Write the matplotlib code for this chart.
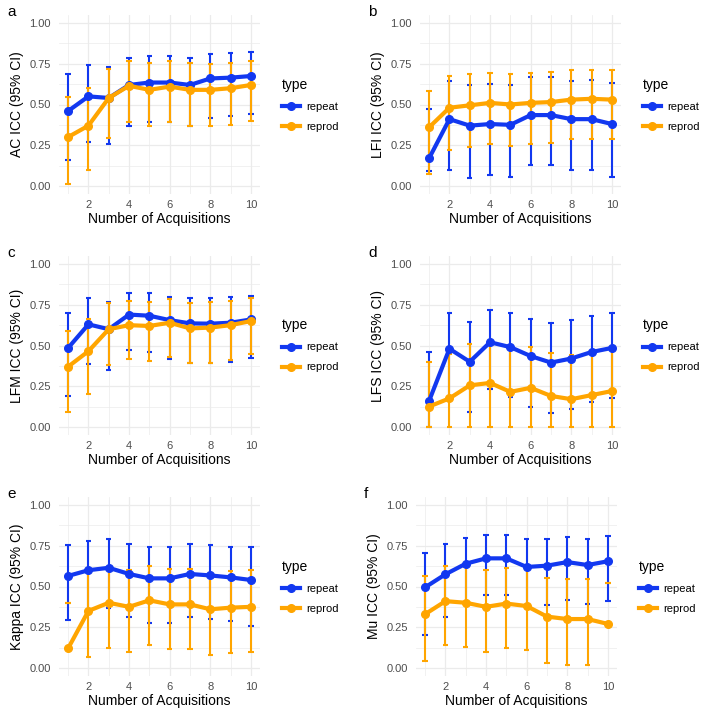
import numpy as np
import matplotlib
matplotlib.use('Agg')
import matplotlib.pyplot as plt
from matplotlib.lines import Line2D

plt.rcParams['font.family'] = ['Liberation Sans', 'DejaVu Sans']

# data (ICC point estimates and 95% CI)
acq = [1, 2, 3, 4, 5, 6, 7, 8, 9, 10]
letters = ['a', 'b', 'c', 'd', 'e', 'f']
ylabels = ['AC ICC (95% CI)', 'LFI ICC (95% CI)', 'LFM ICC (95% CI)',
           'LFS ICC (95% CI)', 'Kappa ICC (95% CI)', 'Mu ICC (95% CI)']
types = ['repeat', 'reprod']

ac_repeat = [0.46, 0.55, 0.54, 0.62, 0.635, 0.635, 0.62, 0.66, 0.665, 0.675]
ac_repeat_lo = [0.16, 0.27, 0.26, 0.37, 0.39, 0.39, 0.37, 0.42, 0.43, 0.44]
ac_repeat_hi = [0.685, 0.74, 0.73, 0.785, 0.795, 0.795, 0.785, 0.81, 0.815, 0.82]
ac_reprod = [0.30, 0.37, 0.54, 0.615, 0.59, 0.61, 0.59, 0.59, 0.60, 0.62]
ac_reprod_lo = [0.01, 0.095, 0.295, 0.39, 0.365, 0.39, 0.37, 0.365, 0.375, 0.40]
ac_reprod_hi = [0.545, 0.60, 0.72, 0.765, 0.755, 0.765, 0.755, 0.75, 0.755, 0.77]

lfi_repeat = [0.17, 0.41, 0.37, 0.38, 0.375, 0.435, 0.435, 0.41, 0.41, 0.38]
lfi_repeat_lo = [0.09, 0.095, 0.05, 0.065, 0.055, 0.13, 0.13, 0.10, 0.10, 0.055]
lfi_repeat_hi = [0.47, 0.645, 0.62, 0.627, 0.62, 0.668, 0.668, 0.645, 0.65, 0.63]
lfi_reprod = [0.36, 0.48, 0.495, 0.51, 0.50, 0.51, 0.515, 0.53, 0.535, 0.53]
lfi_reprod_lo = [0.075, 0.22, 0.24, 0.26, 0.245, 0.26, 0.265, 0.285, 0.29, 0.285]
lfi_reprod_hi = [0.585, 0.675, 0.685, 0.695, 0.69, 0.695, 0.70, 0.71, 0.715, 0.71]

lfm_repeat = [0.485, 0.63, 0.60, 0.69, 0.683, 0.656, 0.636, 0.634, 0.64, 0.66]
lfm_repeat_lo = [0.19, 0.385, 0.35, 0.47, 0.46, 0.42, 0.39, 0.39, 0.40, 0.425]
lfm_repeat_hi = [0.70, 0.79, 0.77, 0.825, 0.82, 0.80, 0.79, 0.79, 0.795, 0.805]
lfm_reprod = [0.37, 0.465, 0.60, 0.625, 0.62, 0.64, 0.605, 0.61, 0.625, 0.65]
lfm_reprod_lo = [0.09, 0.20, 0.38, 0.415, 0.405, 0.43, 0.39, 0.39, 0.41, 0.45]
lfm_reprod_hi = [0.59, 0.66, 0.76, 0.775, 0.77, 0.785, 0.76, 0.765, 0.775, 0.79]

lfs_repeat = [0.16, 0.48, 0.40, 0.52, 0.49, 0.435, 0.395, 0.42, 0.46, 0.485]
lfs_repeat_lo = [0.0, 0.185, 0.09, 0.235, 0.185, 0.125, 0.085, 0.11, 0.155, 0.18]
lfs_repeat_hi = [0.46, 0.70, 0.645, 0.72, 0.70, 0.665, 0.64, 0.655, 0.68, 0.70]
lfs_reprod = [0.125, 0.175, 0.255, 0.27, 0.215, 0.24, 0.19, 0.17, 0.195, 0.22]
lfs_reprod_lo = [0.0, 0.0, 0.0, 0.0, 0.0, 0.0, 0.0, 0.0, 0.0, 0.0]
lfs_reprod_hi = [0.40, 0.45, 0.51, 0.515, 0.48, 0.49, 0.455, 0.44, 0.455, 0.475]

kappa_repeat = [0.565, 0.60, 0.615, 0.577, 0.55, 0.55, 0.577, 0.568, 0.556, 0.54]
kappa_repeat_lo = [0.295, 0.345, 0.365, 0.31, 0.275, 0.275, 0.315, 0.30, 0.285, 0.26]
kappa_repeat_hi = [0.755, 0.78, 0.79, 0.76, 0.74, 0.74, 0.76, 0.755, 0.745, 0.74]
kappa_reprod = [0.12, 0.35, 0.40, 0.375, 0.415, 0.39, 0.39, 0.36, 0.37, 0.375]
kappa_reprod_lo = [0.40, 0.065, 0.125, 0.095, 0.14, 0.115, 0.115, 0.08, 0.09, 0.095]
kappa_reprod_hi = [0.40, 0.585, 0.62, 0.60, 0.625, 0.61, 0.61, 0.585, 0.595, 0.60]

mu_repeat = [0.495, 0.575, 0.64, 0.673, 0.673, 0.62, 0.628, 0.65, 0.632, 0.655]
mu_repeat_lo = [0.205, 0.31, 0.395, 0.445, 0.445, 0.38, 0.385, 0.415, 0.39, 0.41]
mu_repeat_hi = [0.708, 0.76, 0.80, 0.816, 0.816, 0.79, 0.793, 0.806, 0.793, 0.81]
mu_reprod = [0.33, 0.41, 0.40, 0.375, 0.395, 0.38, 0.315, 0.30, 0.30, 0.27]
mu_reprod_lo = [0.04, 0.14, 0.13, 0.10, 0.125, 0.11, 0.03, 0.015, 0.015, 0.52]
mu_reprod_hi = [0.565, 0.625, 0.62, 0.60, 0.615, 0.61, 0.55, 0.545, 0.545, 0.52]

panels = [
    (ac_repeat, ac_repeat_lo, ac_repeat_hi, ac_reprod, ac_reprod_lo, ac_reprod_hi),
    (lfi_repeat, lfi_repeat_lo, lfi_repeat_hi, lfi_reprod, lfi_reprod_lo, lfi_reprod_hi),
    (lfm_repeat, lfm_repeat_lo, lfm_repeat_hi, lfm_reprod, lfm_reprod_lo, lfm_reprod_hi),
    (lfs_repeat, lfs_repeat_lo, lfs_repeat_hi, lfs_reprod, lfs_reprod_lo, lfs_reprod_hi),
    (kappa_repeat, kappa_repeat_lo, kappa_repeat_hi, kappa_reprod, kappa_reprod_lo, kappa_reprod_hi),
    (mu_repeat, mu_repeat_lo, mu_repeat_hi, mu_reprod, mu_reprod_lo, mu_reprod_hi),
]

colors = {'repeat': '#1238F0', 'reprod': '#FFA500'}

W, H = 709, 713
fig = plt.figure(figsize=(W / 100, H / 100), dpi=100)

# plot-area boxes in pixels: (left, top, right, bottom)
boxes = [(59, 15, 260, 194), (420, 15, 621, 194),
         (59, 256, 260, 435), (420, 256, 621, 435),
         (59, 497, 260, 676), (416, 497, 617, 676)]

x = np.array(acq)
cap = 0.13

for i, (vals, box) in enumerate(zip(panels, boxes)):
    l, t, r, b = box
    ax = fig.add_axes([l / W, 1 - b / H, (r - l) / W, (b - t) / H])
    series = [(vals[0], vals[1], vals[2], 'repeat'), (vals[3], vals[4], vals[5], 'reprod')]

    # error bars first (repeat under reprod)
    for y, lo, hi, name in series:
        c = colors[name]
        ax.vlines(x, lo, hi, color=c, lw=1.5, zorder=2, capstyle='butt')
        ax.hlines(lo, x - cap, x + cap, color=c, lw=1.5, zorder=2)
        ax.hlines(hi, x - cap, x + cap, color=c, lw=1.5, zorder=2)
    for y, lo, hi, name in series:
        ax.plot(x, y, color=colors[name], lw=3, marker='o', ms=5.5,
                solid_capstyle='round', zorder=3)

    ax.set_xlim(0.55, 10.45)
    ax.set_ylim(-0.05, 1.05)
    ax.set_xticks([2, 4, 6, 8, 10])
    ax.set_xticks([1, 3, 5, 7, 9], minor=True)
    ax.set_yticks([0, 0.25, 0.5, 0.75, 1.0])
    ax.set_yticklabels(['0.00', '0.25', '0.50', '0.75', '1.00'])
    ax.set_yticks([0.125, 0.375, 0.625, 0.875], minor=True)
    ax.grid(True, which='major', color='#EBEBEB', lw=0.9)
    ax.grid(True, which='minor', color='#EBEBEB', lw=0.5)
    ax.set_axisbelow(True)
    for s in ax.spines.values():
        s.set_visible(False)
    ax.tick_params(which='both', length=0, labelsize=8, labelcolor='#4D4D4D')
    ax.tick_params(axis='y', pad=6)
    ax.tick_params(axis='x', pad=4)
    ax.set_xlabel('Number of Acquisitions', fontsize=10, labelpad=2)
    ax.set_ylabel(ylabels[i], fontsize=10, labelpad=4)

    handles = [Line2D([], [], color=colors[n], lw=3, marker='o', ms=5.5) for n in types]
    leg = ax.legend(handles, types, title='type', loc='center left',
                    bbox_to_anchor=(1.06, 0.5), frameon=False, fontsize=8,
                    title_fontsize=10, handlelength=1.6, handletextpad=0.6,
                    labelspacing=0.9, alignment='left')

    fig.text((l - 52) / W, 1 - (t - 3) / H, letters[i], fontsize=11,
             ha='left', va='center')

fig.savefig('out.png', dpi=100)
